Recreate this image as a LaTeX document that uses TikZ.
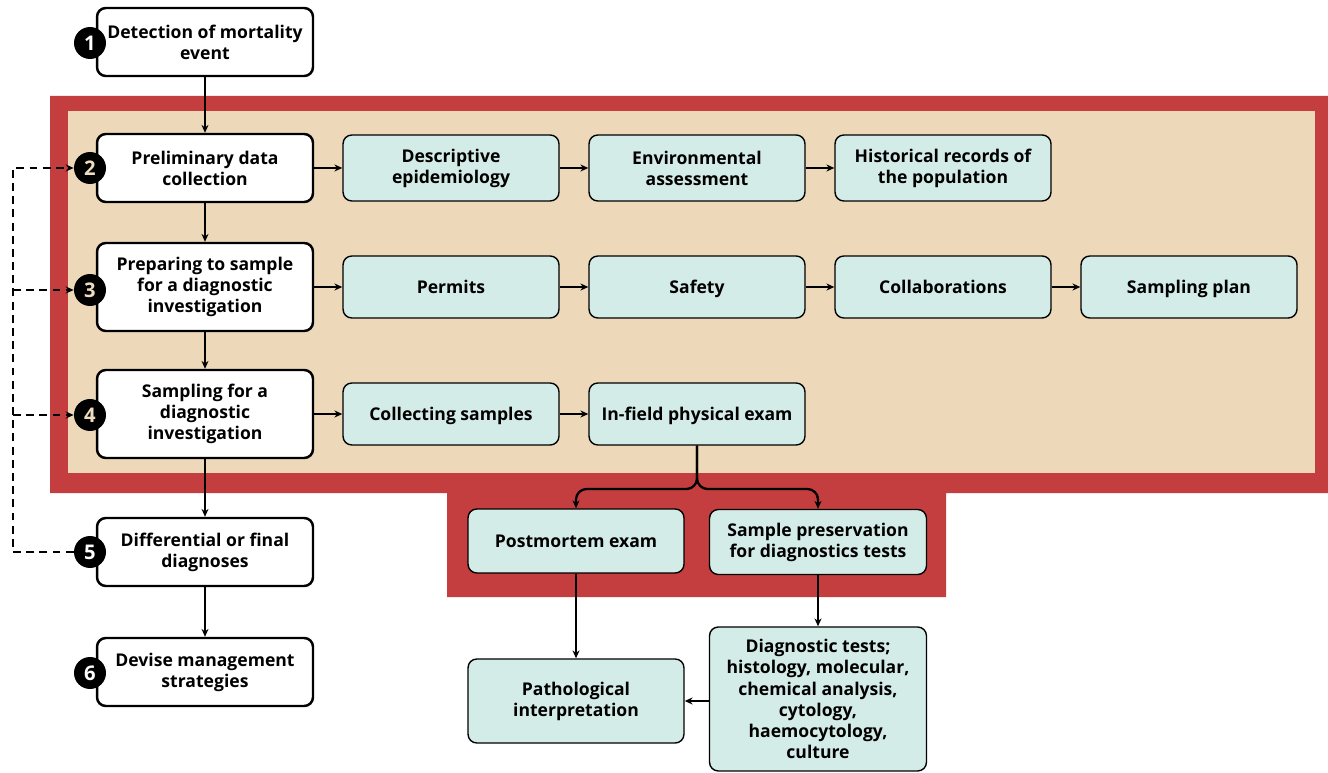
\documentclass[tikz,border=0pt]{standalone}
\usepackage{fontspec}
\setmainfont{Open Sans}
\usetikzlibrary{arrows.meta}
\definecolor{redframe}{HTML}{C43D3F}
\definecolor{sand}{HTML}{EDD9BA}
\definecolor{mint}{HTML}{D4ECE8}
\definecolor{numsand}{HTML}{EFDDBF}

\begin{document}
\begin{tikzpicture}[x=0.02cm,y=-0.02cm,>={Stealth[length=4.5pt,width=4pt]},
  font=\fontsize{10}{12}\selectfont\bfseries,
  stage/.style={draw,line width=1.4pt,rounded corners=5pt,fill=white,minimum width=4.32cm,minimum height=1.36cm,align=center,inner sep=2pt},
  task/.style={draw,line width=0.8pt,rounded corners=5pt,fill=mint,minimum width=4.32cm,minimum height=1.24cm,align=center,inner sep=2pt},
  oneline/.style={text height=7.2pt,text depth=0pt},
  num/.style={circle,fill=black,text=white,minimum size=0.64cm,inner sep=0pt,font=\fontsize{11.5}{11.5}\selectfont\bfseries},
  flow/.style={->,line width=0.6pt},
  link/.style={->,line width=1pt},
  branch/.style={->,line width=1.3pt,rounded corners=6pt},
  back/.style={->,line width=1.3pt,dash pattern=on 4.5pt off 3pt}]
\useasboundingbox (0,0) rectangle (1328,773);

% red frame and sand panel
\fill[redframe] (50,96) -- (1328,96) -- (1328,493) -- (946,493) -- (946,597)
  -- (447,597) -- (447,493) -- (50,493) -- cycle;
\fill[sand] (68,111) rectangle (1315,473);

% main stages
\node[stage] (n1) at (205,42) {Detection of mortality\\event};
\node[stage] (n2) at (205,168) {Preliminary data\\collection};
\node[stage,minimum height=1.76cm] (n3) at (205,287) {Preparing to sample\\for a diagnostic\\investigation};
\node[stage,minimum height=1.76cm] (n4) at (205,414) {Sampling for a\\diagnostic\\investigation};
\node[stage] (n5) at (205,552) {Differential or final\\diagnoses};
\node[stage] (n6) at (205,672) {Devise management\\strategies};

\node[num] (c1) at (90,43) {1};
\node[num,text=numsand] (c2) at (90,168) {2};
\node[num,text=numsand] (c3) at (90,290) {3};
\node[num,text=numsand] (c4) at (90,415) {4};
\node[num] (c5) at (90,552) {5};
\node[num] (c6) at (90,673) {6};

% tasks
\node[task,minimum height=1.32cm] (desc) at (451,168) {Descriptive\\epidemiology};
\node[task,minimum height=1.32cm] (env) at (697,168) {Environmental\\assessment};
\node[task,minimum height=1.32cm] (hist) at (943,168) {Historical records of\\the population};
\node[task,oneline] (permits) at (451,287) {Permits};
\node[task,oneline] (safety) at (697,287) {Safety};
\node[task,oneline] (collab) at (943,287) {Collaborations};
\node[task,oneline] (plan) at (1189,287) {Sampling plan};
\node[task,oneline] (collect) at (451,414) {Collecting samples};
\node[task,oneline] (infield) at (697,414) {In-field physical exam};
\node[task,oneline,minimum height=1.28cm] (post) at (576,541) {Postmortem exam};
\node[task,minimum height=1.3cm,minimum width=4.34cm] (pres) at (818,542) {Sample preservation\\for diagnostics tests};
\node[task,minimum height=1.68cm] (patho) at (576,701) {Pathological\\interpretation};
\node[task,minimum height=2.88cm,minimum width=4.34cm] (diag) at (818,699) {Diagnostic tests;\\histology, molecular,\\chemical analysis,\\cytology,\\haemocytology,\\culture};

\coordinate (rail) at (13,0);
\coordinate (fork) at (697,489);

\path[flow]
(n1) edge (n2)
(n2) edge (n3)
(n3) edge (n4)
(n4) edge (n5)
(n5) edge (n6)
;
\path[link]
(n2) edge (desc)
(desc) edge (env)
(env) edge (hist)
(n3) edge (permits)
(permits) edge (safety)
(safety) edge (collab)
(collab) edge (plan)
(n4) edge (collect)
(collect) edge (infield)
(post) edge (patho)
(pres) edge (diag)
(diag.west |- patho) edge (patho)
;

\draw[branch] (infield.south) |- (post.north |- fork) -- (post.north);
\draw[branch] (infield.south) |- (pres.north |- fork) -- (pres.north);

% feedback loop
\draw[back] (c5.west) -- (c5.west -| rail) |- (c2.west);
\draw[back] (c3.west -| rail) -- (c3.west);
\draw[back] (c4.west -| rail) -- (c4.west);
\end{tikzpicture}
\end{document}
